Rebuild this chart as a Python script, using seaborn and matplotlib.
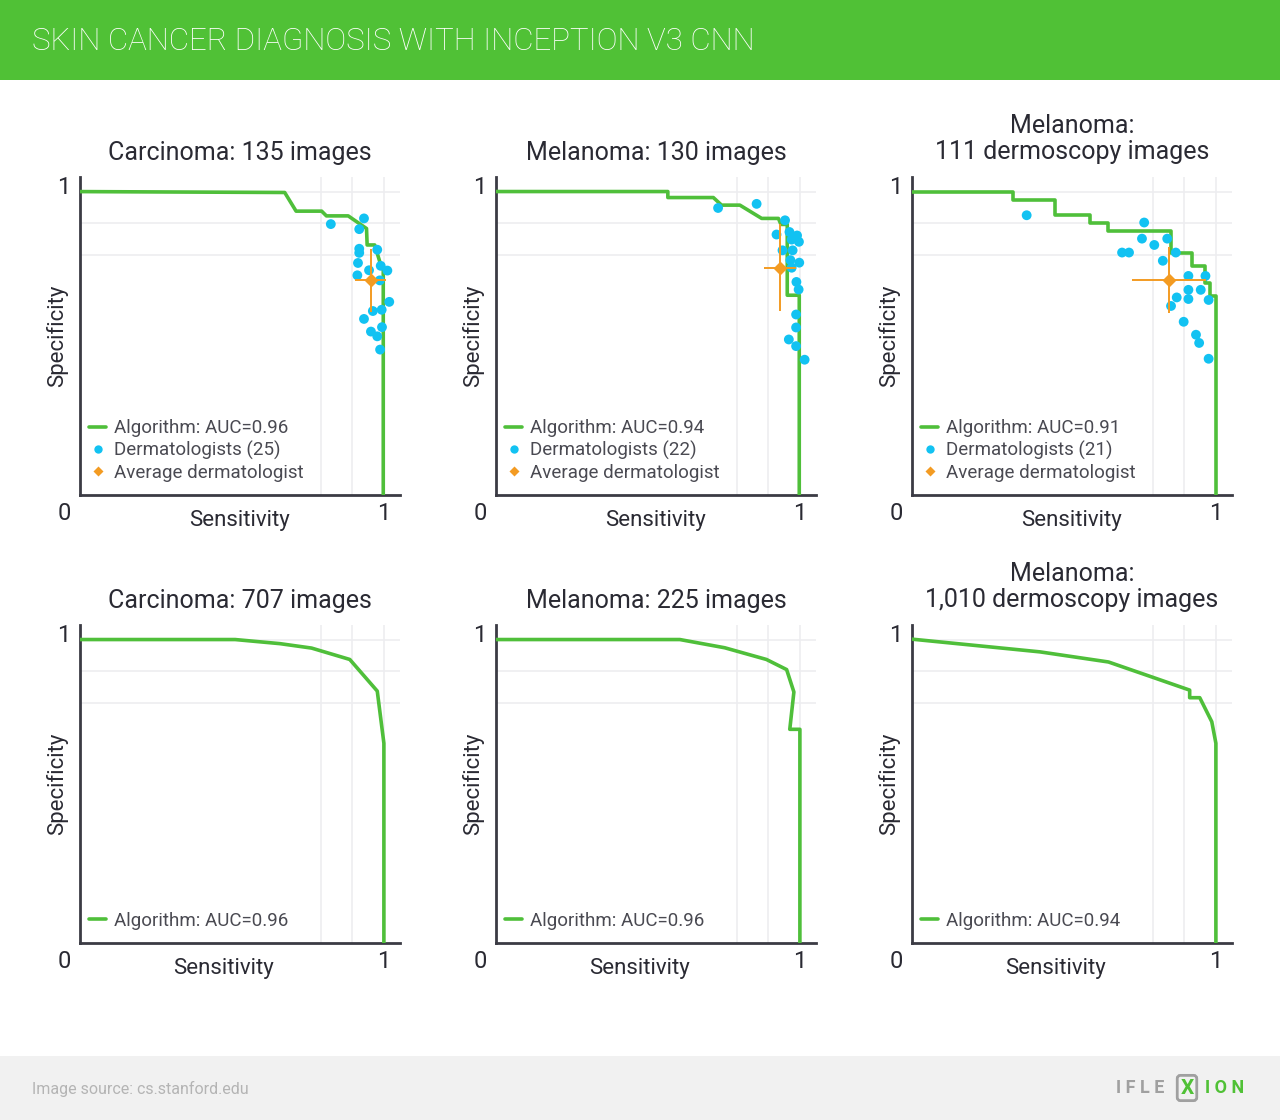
import numpy as np
import pandas as pd
import matplotlib
matplotlib.use("Agg")
import matplotlib.pyplot as plt
from matplotlib.patches import Rectangle
from matplotlib.lines import Line2D
import seaborn as sns

sns.set_theme(style="white")
plt.rcParams["font.family"] = ["Roboto", "DejaVu Sans"]

# ---------------- data ----------------
main_title = "SKIN CANCER DIAGNOSIS WITH INCEPTION V3 CNN"
panel_titles = ["Carcinoma: 135 images", "Melanoma: 130 images", "Melanoma:\n111 dermoscopy images",
                "Carcinoma: 707 images", "Melanoma: 225 images", "Melanoma:\n1,010 dermoscopy images"]
auc_labels = ["Algorithm: AUC=0.96", "Algorithm: AUC=0.94", "Algorithm: AUC=0.91",
              "Algorithm: AUC=0.96", "Algorithm: AUC=0.96", "Algorithm: AUC=0.94"]
derm_labels = ["Dermatologists (25)", "Dermatologists (22)", "Dermatologists (21)"]
avg_label = "Average dermatologist"

# algorithm ROC curves (sensitivity, specificity)
p1_sens = [0.0, 0.686, 0.722, 0.803, 0.818, 0.887, 0.945, 0.947, 0.971, 0.987, 0.998, 0.998]
p1_spec = [1.0, 0.997, 0.938, 0.938, 0.923, 0.923, 0.883, 0.831, 0.831, 0.778, 0.751, 0.0]
p2_sens = [0.0, 0.582, 0.582, 0.726, 0.752, 0.810, 0.879, 0.932, 0.940, 0.960, 0.960, 0.998, 0.998]
p2_spec = [1.0, 1.0, 0.981, 0.981, 0.957, 0.957, 0.915, 0.915, 0.896, 0.896, 0.672, 0.672, 0.0]
p3_sens = [0.0, 0.358, 0.358, 0.490, 0.490, 0.602, 0.602, 0.658, 0.658, 0.857, 0.857, 0.925, 0.925,
           0.967, 0.967, 0.981, 0.981, 1.0, 1.0]
p3_spec = [1.0, 1.0, 0.973, 0.973, 0.925, 0.925, 0.902, 0.902, 0.875, 0.875, 0.807, 0.807, 0.763,
           0.763, 0.711, 0.711, 0.668, 0.668, 0.0]
p4_sens = [0.0, 0.529, 0.671, 0.771, 0.892, 0.979, 1.0, 1.0]
p4_spec = [1.0, 1.0, 0.987, 0.973, 0.937, 0.837, 0.672, 0.0]
p5_sens = [0.0, 0.620, 0.762, 0.894, 0.958, 0.981, 0.968, 1.0, 1.0]
p5_spec = [1.0, 1.0, 0.974, 0.937, 0.905, 0.834, 0.716, 0.716, 0.0]
p6_sens = [0.0, 0.443, 0.660, 0.796, 0.917, 0.917, 0.949, 0.987, 1.0, 1.0]
p6_spec = [1.005, 0.961, 0.929, 0.882, 0.840, 0.816, 0.816, 0.740, 0.672, 0.0]

# dermatologists
d1_sens = [0.832, 0.937, 0.922, 0.922, 0.922, 0.918, 0.916, 0.953, 0.979, 0.990, 1.011, 0.987,
           1.017, 0.965, 0.993, 0.937, 0.959, 0.979, 0.994, 0.988]
d1_spec = [0.897, 0.915, 0.881, 0.819, 0.806, 0.774, 0.735, 0.751, 0.816, 0.765, 0.750, 0.719,
           0.651, 0.622, 0.626, 0.597, 0.557, 0.542, 0.571, 0.500]
d2_sens = [0.741, 0.863, 0.953, 0.926, 0.967, 0.991, 0.997, 0.974, 0.945, 0.977, 0.970, 0.998,
           0.974, 0.989, 0.996, 0.988, 0.988, 0.965, 0.988, 1.015]
d2_spec = [0.948, 0.961, 0.909, 0.864, 0.872, 0.861, 0.841, 0.848, 0.814, 0.814, 0.783, 0.775,
           0.759, 0.714, 0.690, 0.611, 0.570, 0.532, 0.511, 0.468]
d3_sens = [0.401, 0.773, 0.766, 0.805, 0.846, 0.703, 0.725, 0.832, 0.873, 0.913, 0.967, 0.913,
           0.952, 0.876, 0.913, 0.977, 0.858, 0.898, 0.937, 0.947, 0.977]
d3_spec = [0.925, 0.902, 0.851, 0.831, 0.851, 0.807, 0.807, 0.781, 0.807, 0.733, 0.733, 0.689,
           0.689, 0.665, 0.660, 0.657, 0.638, 0.588, 0.547, 0.521, 0.471]

# average dermatologist: sens, spec, sens err, spec err
avg_sens = [0.958, 0.937, 0.851]
avg_spec = [0.719, 0.759, 0.720]
avg_sens_err = [0.048, 0.050, 0.118]
avg_spec_err = [0.100, 0.137, 0.105]

# ---------------- style ----------------
GREEN = "#4fbf3a"
BAR_GREEN = "#50c136"
BLUE = "#12c2f2"
ORANGE = "#f39b22"
SPINE = "#3b3b44"
TEXT = "#2a2a33"
LEG = "#4a4a52"
GRID = "#ededf0"

W, H = 1280, 1120
fig = plt.figure(figsize=(W / 100, H / 100), dpi=100)
fig.patch.set_facecolor("white")

# header band & footer band
fig.patches.append(Rectangle((0, 1 - 80 / H), 1, 80 / H, transform=fig.transFigure,
                             facecolor=BAR_GREEN, edgecolor="none", zorder=0))
fig.patches.append(Rectangle((0, 0), 1, 64 / H, transform=fig.transFigure,
                             facecolor="#f1f1f1", edgecolor="none", zorder=0))
fig.text(32 / W, 1 - 41 / H, main_title, color="white", fontsize=22.5, fontweight="light",
         va="center", ha="left")
fig.text(32 / W, 1 - 1089 / H, "Image source: cs.stanford.edu", color="#b4b4b4", fontsize=11.5,
         va="center", ha="left")
fig.text(1116 / W, 1 - 1088 / H, "I F L E", color="#a0a0a0", fontsize=13, va="center",
         ha="left", fontweight="bold")
fig.text(1187 / W, 1 - 1088 / H, "X", color=BAR_GREEN, fontsize=15, va="center", ha="center",
         fontweight="bold",
         bbox=dict(boxstyle="round,pad=0.15", facecolor="none", edgecolor="#a0a0a0", lw=2))
fig.text(1205 / W, 1 - 1088 / H, "I O N", color=BAR_GREEN, fontsize=13, va="center",
         ha="left", fontweight="bold")

curves = [(p1_sens, p1_spec), (p2_sens, p2_spec), (p3_sens, p3_spec),
          (p4_sens, p4_spec), (p5_sens, p5_spec), (p6_sens, p6_spec)]
derms = [(d1_sens, d1_spec), (d2_sens, d2_spec), (d3_sens, d3_spec)]

lefts = [80, 496, 912]
tops = [177, 625]
aw, ah = 320, 318

for i in range(6):
    r, c = divmod(i, 3)
    left = lefts[c] / W
    bottom = 1 - (tops[r] + ah) / H
    ax = fig.add_axes([left, bottom, aw / W, ah / H])
    ax.set_xlim(0.038, 1.051)
    ax.set_ylim(0.04, 1.046)
    ax.set_xticks([0.8, 0.9, 1.0])
    ax.set_yticks([0.8, 0.9, 1.0])
    ax.grid(True, color=GRID, lw=1.2)
    ax.set_axisbelow(True)
    ax.tick_params(length=0, labelbottom=False, labelleft=False)
    for s in ["top", "right"]:
        ax.spines[s].set_visible(False)
    for s in ["left", "bottom"]:
        ax.spines[s].set_color(SPINE)
        ax.spines[s].set_linewidth(2)

    sx, sy = curves[i]
    df = pd.DataFrame({"Sensitivity": sx, "Specificity": sy})
    sns.lineplot(data=df, x="Sensitivity", y="Specificity", sort=False, estimator=None,
                 ax=ax, color=GREEN, lw=2.6, legend=False, zorder=3)
    handles = [Line2D([], [], color=GREEN, lw=2.6)]
    labels = [auc_labels[i]]
    if r == 0:
        dx, dy = derms[c]
        dd = pd.DataFrame({"Sensitivity": dx, "Specificity": dy})
        sns.scatterplot(data=dd, x="Sensitivity", y="Specificity", ax=ax, color=BLUE, s=50,
                        edgecolor="none", legend=False, zorder=4)
        ax.errorbar(avg_sens[c], avg_spec[c], xerr=avg_sens_err[c], yerr=avg_spec_err[c],
                    fmt="D", color=ORANGE, ms=6, elinewidth=1.4, capsize=0, zorder=5)
        handles += [Line2D([], [], marker="o", ls="", color=BLUE, ms=6, mec="none"),
                    Line2D([], [], marker="D", ls="", color=ORANGE, ms=5, mec="none")]
        labels += [derm_labels[c], avg_label]

    leg = ax.legend(handles, labels, loc="lower left", bbox_to_anchor=(-0.012, 0.0),
                    frameon=False, fontsize=13.5, handlelength=0.9, handletextpad=0.4,
                    labelspacing=0.2, borderaxespad=0.3)
    for t in leg.get_texts():
        t.set_color(LEG)

    ax.set_xlabel("")
    ax.set_ylabel("")
    ax.text(0.5 if r == 0 else 0.45, -0.079, "Sensitivity", transform=ax.transAxes,
            fontsize=16, color=TEXT, ha="center", va="center")
    ax.text(-0.072, 0.5, "Specificity", transform=ax.transAxes, rotation=90,
            fontsize=16, color=TEXT, ha="center", va="center")

    ax.text(-0.05, -0.057, "0", transform=ax.transAxes, fontsize=17, color=TEXT,
            ha="center", va="center")
    ax.text(0.95, -0.057, "1", transform=ax.transAxes, fontsize=17, color=TEXT,
            ha="center", va="center")
    ax.text(-0.05, 0.968, "1", transform=ax.transAxes, fontsize=17, color=TEXT,
            ha="center", va="center")
    two = "\n" in panel_titles[i]
    ax.text(0.5, 1.12 if two else 1.076, panel_titles[i], transform=ax.transAxes,
            fontsize=18, color=TEXT, ha="center", va="center", linespacing=1.12)

fig.savefig("out.png", dpi=100, facecolor=fig.get_facecolor())
